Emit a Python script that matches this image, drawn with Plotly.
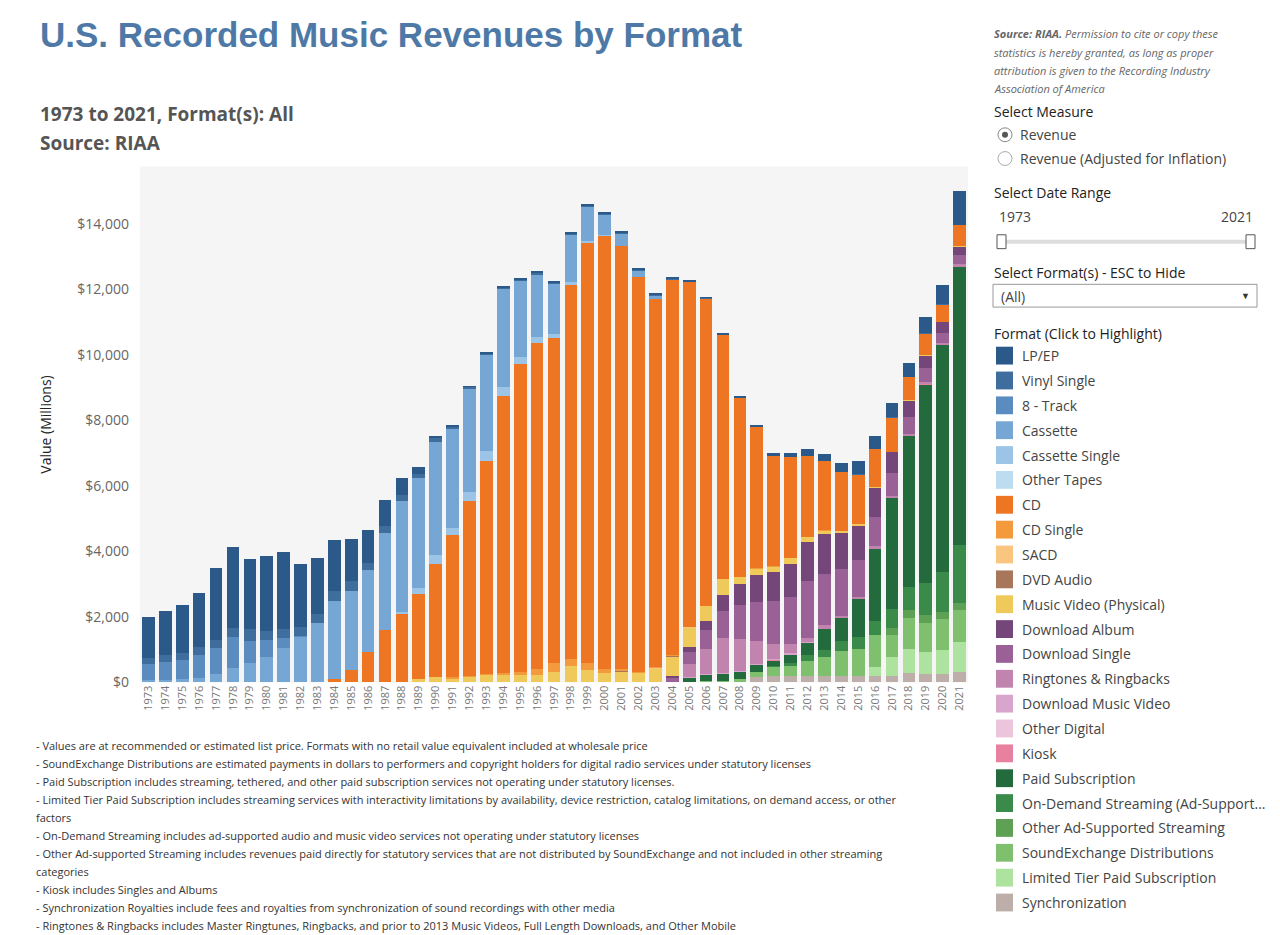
import plotly.graph_objects as go

W, H = 1280, 935

years = list(range(1973, 2022))

formats = ['LP/EP', 'Vinyl Single', '8 - Track', 'Cassette', 'Cassette Single', 'Other Tapes',
           'CD', 'CD Single', 'SACD', 'DVD Audio', 'Music Video (Physical)', 'Download Album',
           'Download Single', 'Ringtones & Ringbacks', 'Download Music Video', 'Other Digital',
           'Kiosk', 'Paid Subscription', 'On-Demand Streaming (Ad-Supported)',
           'Other Ad-Supported Streaming', 'SoundExchange Distributions',
           'Limited Tier Paid Subscription', 'Synchronization']

colors = ['#2b5a8a', '#3f6e9e', '#5a8cc0', '#76a6d3', '#9bc4e6', '#bcdcf0',
          '#ee7521', '#f39a3c', '#f9c57f', '#a8765b', '#efc95a', '#74467a',
          '#9a6197', '#c084ae', '#d8a5cc', '#ecc4dc', '#e8809f', '#236b3c',
          '#3a8a4a', '#5ea154', '#7fc06f', '#aee29f', '#bdaeaa']

# values in $ millions, 1973..2021
lp = [1246, 1356, 1485, 1663, 2195, 2473, 2136, 2290, 2342, 1925, 1689, 1548, 1281, 983, 793, 532,
      220, 87, 29, 13, 11, 17, 25, 37, 33, 34, 31, 28, 27, 21, 22, 19, 14, 16, 23, 56, 64, 89, 119,
      210, 214, 250, 416, 400, 440, 430, 500, 600, 1050]
vinyl_single = [190, 194, 211, 245, 245, 260, 354, 269, 256, 283, 269, 298, 281, 228, 203, 180,
                116, 94, 64, 66, 51, 47, 47, 48, 28, 26, 28, 26, 32, 24, 22, 20, 13, 11, 4, 3, 3,
                2, 2, 2, 2, 2, 3, 6, 6, 6, 6, 6, 8]
eight_track = [489, 549, 584, 678, 811, 948, 669, 526, 309, 36] + [0] * 39
cassette = [76, 87, 98, 146, 250, 450, 604, 776, 1062, 1385, 1811, 2384, 2412, 2500, 2960, 3385,
            3346, 3472, 3019, 3116, 2916, 2977, 2304, 1905, 1523, 1420, 1062, 626, 363, 210, 108,
            24, 13, 3, 0, 0, 0, 0, 0, 0, 0, 0, 0, 0, 0, 0, 0, 0, 0]
cassette_single = [0] * 14 + [14, 57, 194, 257, 230, 298, 299, 274, 236, 190, 134, 94, 48, 4] + [0] * 21
other_tapes = [0] * 49
cd = [0] * 10 + [17, 103, 390, 930, 1594, 2090, 2588, 3452, 4338, 5327, 6511, 8465, 9377, 9935,
                 9915, 11416, 12816, 13215, 12909, 12044, 11233, 11447, 10520, 9372, 7452, 5471,
                 4318, 3375, 3101, 2470, 2123, 1800, 1520, 1150, 1040, 700, 655, 520, 625]
cd_single = [0] * 18 + [36, 45, 45, 56, 111, 185, 273, 213, 222, 143, 79, 20, 36, 15, 11, 7, 12,
                        4, 3, 2, 2, 1, 1, 1, 1, 1, 1, 1, 1, 1, 1]
sacd = [0] * 30 + [26, 16, 3, 1, 1, 1, 1, 1, 1, 1, 1, 1, 1, 0, 0, 0, 0, 0, 0]
dvd_audio = [0] * 28 + [6, 9, 8, 7, 4, 1, 1, 1, 1, 1, 1, 1, 1, 1, 1, 0, 0, 0, 0, 0, 0]
music_video = [0] * 16 + [115, 172, 118, 157, 214, 231, 220, 236, 324, 508, 377, 281, 329, 288,
                          400, 607, 602, 451, 484, 219, 202, 165, 160, 150, 90, 60, 50, 20, 20,
                          20, 25, 20, 25]
dl_album = [0] * 31 + [46, 136, 275, 497, 635, 829, 875, 1032, 1200, 1232, 1100, 1030, 885, 635,
                       500, 355, 330, 260]
dl_single = [0] * 31 + [138, 363, 580, 811, 1032, 1172, 1330, 1435, 1720, 1571, 1430, 1140, 885,
                        700, 520, 430, 290, 260]
ringtones = [0] * 32 + [421, 774, 1056, 977, 702, 450, 277, 135, 97, 66, 60, 100, 50, 50, 80, 80, 90]
dl_mv = [0] * 32 + [2, 14, 29, 30, 42, 44, 36, 28, 16, 10, 10, 10, 5, 5, 5, 5, 5]
other_digital = [0] * 49
kiosk = [0] * 32 + [1, 2, 2, 1, 3, 2, 2, 2, 2, 2, 2, 2, 1, 1, 1, 1, 1]
paid_sub = [0] * 32 + [149, 206, 234, 221, 206, 160, 241, 365, 628, 710, 1157, 2190, 3385, 4600,
                       6060, 6920, 8500]
on_demand = [0] * 37 + [40, 117, 190, 220, 290, 370, 415, 575, 710, 980, 1230, 1770]
other_ad = [0] * 43 + [0, 210, 230, 240, 210, 210]
soundexchange = [0] * 33 + [33, 36, 100, 155, 260, 292, 440, 590, 750, 803, 990, 680, 960, 900, 940, 980]
limited_tier = [0] * 43 + [260, 570, 730, 655, 730, 920]
synch = [0] * 36 + [166, 210, 196, 210, 189, 210, 203, 210, 210, 290, 260, 260, 310]

series = [lp, vinyl_single, eight_track, cassette, cassette_single, other_tapes, cd, cd_single,
          sacd, dvd_audio, music_video, dl_album, dl_single, ringtones, dl_mv, other_digital,
          kiosk, paid_sub, on_demand, other_ad, soundexchange, limited_tier, synch]

y_ticks = [0, 2000, 4000, 6000, 8000, 10000, 12000, 14000]

footnotes = [
    "- Values are at recommended or estimated list price. Formats with no retail value equivalent included at wholesale price",
    "- SoundExchange Distributions are estimated payments in dollars to performers and copyright holders for digital radio services under statutory licenses",
    "- Paid Subscription includes streaming, tethered, and other paid subscription services not operating under statutory licenses.",
    "- Limited Tier Paid Subscription includes streaming services with interactivity limitations by availability, device restriction, catalog limitations, on demand access, or other",
    "factors",
    "- On-Demand Streaming includes ad-supported audio and music video services not operating under statutory licenses",
    "- Other Ad-supported Streaming includes revenues paid directly for statutory services that are not distributed by SoundExchange and not included in other streaming",
    "categories",
    "- Kiosk includes Singles and Albums",
    "- Synchronization Royalties include fees and royalties from synchronization of sound recordings with other media",
    "- Ringtones & Ringbacks includes Master Ringtunes, Ringbacks, and prior to 2013 Music Videos, Full Length Downloads, and Other Mobile",
]

# the page adds a body margin, so shift everything back by it
OFF_X, OFF_Y = 8, 3


def px(x):
    return (x - OFF_X) / W


def py(y):
    return 1 - (y - OFF_Y) / H


fig = go.Figure()
# bottom of stack is the last format
for name, vals, col in reversed(list(zip(formats, series, colors))):
    fig.add_trace(go.Bar(x=[str(y) for y in years], y=vals, name=name,
                         marker=dict(color=col, line=dict(width=0))))

fig.update_layout(
    width=W, height=H, barmode='stack', bargap=0.25, showlegend=False,
    margin=dict(l=0, r=0, t=0, b=0),
    paper_bgcolor='white', plot_bgcolor='#f5f5f5',
    font=dict(family='Open Sans', color='#333'),
    xaxis=dict(domain=[px(140), px(968)], tickangle=-90, tickfont=dict(size=11, color='#777'),
               showgrid=False, ticks='', anchor='y'),
    yaxis=dict(domain=[py(684), py(163)], range=[0, 15750], tickvals=y_ticks,
               ticktext=[f"${v:,}" for v in y_ticks], tickfont=dict(size=14, color='#666'),
               showgrid=False, zeroline=False, ticks='', ticklabelstandoff=10,
               title=dict(text='Value (Millions)', font=dict(size=14, color='#222'), standoff=22)),
)

ann = []
ann.append(dict(x=px(38), y=py(30), text='<b>U.S. Recorded Music Revenues by Format</b>',
                font=dict(family='Liberation Sans', size=35, color='#4e79a7')))
ann.append(dict(x=px(38), y=py(110), text='<b>1973 to 2021, Format(s): All</b>',
                font=dict(size=19, color='#555')))
ann.append(dict(x=px(38), y=py(139), text='<b>Source: RIAA</b>', font=dict(size=19, color='#555')))

src = ["<b>Source: RIAA.</b> Permission to cite or copy these",
       "statistics is hereby granted, as long as proper",
       "attribution is given to the Recording Industry",
       "Association of America"]
for i, t in enumerate(src):
    ann.append(dict(x=px(992), y=py(29 + 18.5 * i), text=f"<i>{t}</i>", font=dict(size=11, color='#666')))

ann.append(dict(x=px(992), y=py(108), text='Select Measure', font=dict(size=14, color='#222')))
ann.append(dict(x=px(1018), y=py(131), text='Revenue', font=dict(size=14, color='#444')))
ann.append(dict(x=px(1018), y=py(155), text='Revenue (Adjusted for Inflation)', font=dict(size=14, color='#444')))
ann.append(dict(x=px(992), y=py(189), text='Select Date Range', font=dict(size=14, color='#222')))
ann.append(dict(x=px(997), y=py(214), text='1973', font=dict(size=14, color='#444')))
ann.append(dict(x=px(1255), y=py(214), text='2021', font=dict(size=14, color='#444'), xanchor='right'))
ann.append(dict(x=px(992), y=py(270), text='Select Format(s) - ESC to Hide', font=dict(size=14, color='#222')))
ann.append(dict(x=px(999), y=py(294), text='(All)', font=dict(size=14, color='#444')))
ann.append(dict(x=px(1245), y=py(293), text='▼', font=dict(size=9, color='#333'), xanchor='center'))
ann.append(dict(x=px(992), y=py(332), text='Format (Click to Highlight)', font=dict(size=14, color='#222')))

shapes = []
# radio buttons
shapes.append(dict(type='circle', x0=px(998), x1=px(1012), y0=py(124), y1=py(138),
                   line=dict(color='#888', width=1), fillcolor='white'))
shapes.append(dict(type='circle', x0=px(1002), x1=px(1008), y0=py(128), y1=py(134),
                   line=dict(width=0), fillcolor='#555'))
shapes.append(dict(type='circle', x0=px(998), x1=px(1012), y0=py(148), y1=py(162),
                   line=dict(color='#aaa', width=1), fillcolor='white'))
# slider
shapes.append(dict(type='rect', x0=px(1000), x1=px(1252), y0=py(237), y1=py(241),
                   line=dict(width=0), fillcolor='#ddd'))
shapes.append(dict(type='rect', x0=px(997), x1=px(1006), y0=py(232), y1=py(246),
                   line=dict(color='#555', width=1), fillcolor='white'))
shapes.append(dict(type='rect', x0=px(1246), x1=px(1255), y0=py(232), y1=py(246),
                   line=dict(color='#555', width=1), fillcolor='white'))
# dropdown
shapes.append(dict(type='rect', x0=px(993), x1=px(1257), y0=py(282), y1=py(305),
                   line=dict(color='#999', width=1), fillcolor='white'))

legend_names = formats[:]
legend_names[18] = 'On-Demand Streaming (Ad-Support...'
for i, (name, col) in enumerate(zip(legend_names, colors)):
    yc = 354 + 25.1 * i
    shapes.append(dict(type='rect', x0=px(996), x1=px(1013), y0=py(yc + 9), y1=py(yc - 9),
                       line=dict(width=0), fillcolor=col))
    ann.append(dict(x=px(1020), y=py(yc), text=name, font=dict(size=14, color='#444')))

for i, t in enumerate(footnotes):
    ann.append(dict(x=px(34), y=py(748 + 18.1 * i), text=t, font=dict(size=11, color='#333')))

for a in ann:
    a.update(xref='paper', yref='paper', showarrow=False, yanchor='middle')
    a.setdefault('xanchor', 'left')
for s in shapes:
    s.update(xref='paper', yref='paper')

fig.update_layout(annotations=ann, shapes=shapes)
fig.write_html("out.html")
